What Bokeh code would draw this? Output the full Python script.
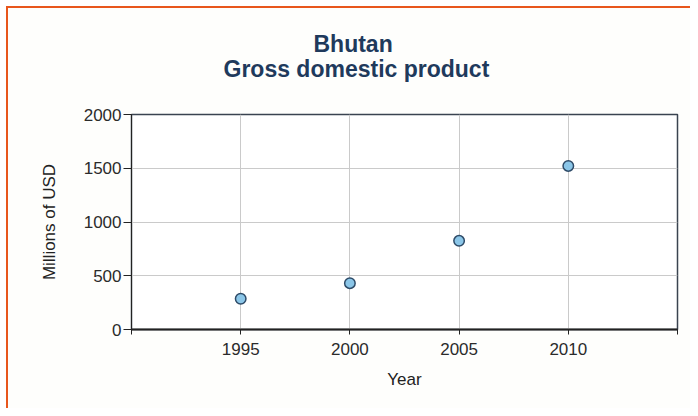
from bokeh.plotting import figure
from bokeh.models import Title, FixedTicker, Range1d
from bokeh.embed import file_html
from bokeh.resources import INLINE

# ---- data ----
years = [1995, 2000, 2005, 2010]
gdp_musd = [286, 431, 825, 1522]
x_ticks = [1990, 1995, 2000, 2005, 2010, 2015]
y_ticks = [0, 500, 1000, 1500, 2000]
title_lines = ["Bhutan", "Gross domestic product"]
x_label = "Year"
y_label = "Millions of USD"

FONT = "Liberation Sans"
TEXT = "#2b2b2b"

W, H = 690, 408
FL, FR, FT, FB = 131, 677, 114, 329          # frame edges in px
X0, X1, Y0, Y1 = 1990, 2015, 0, 2000

p = figure(width=W, height=H, output_backend="svg", toolbar_location=None,
           x_range=Range1d(X0, X1), y_range=Range1d(Y0, Y1),
           min_border_left=FL, min_border_right=W - FR,
           min_border_top=FT, min_border_bottom=H - FB)
p.styles = {"background-color": "#FEFEFC",
            "box-shadow": "inset 6px 6px 0 0 #FFFFFF, inset 8px 8px 0 0 #E8561C"}

p.background_fill_color = "white"
p.border_fill_color = None
p.outline_line_color = "#3a4350"
p.outline_line_width = 1.5

p.scatter(years, gdp_musd, size=10.5, marker="circle", fill_color="#8BC6E8",
          line_color="#2E4B68", line_width=1.5)

p.xaxis.ticker = FixedTicker(ticks=x_ticks)
p.xaxis.major_label_overrides = {x_ticks[0]: "", x_ticks[-1]: ""}
p.yaxis.ticker = FixedTicker(ticks=y_ticks)
p.xgrid.ticker = FixedTicker(ticks=x_ticks)
p.ygrid.ticker = FixedTicker(ticks=y_ticks)
p.grid.grid_line_color = "#cacaca"
p.grid.grid_line_width = 1

for ax in (p.xaxis, p.yaxis):
    ax.axis_line_color = "#222222"
    ax.major_tick_line_color = "#222222"
    ax.minor_tick_line_color = None
    ax.major_tick_in = 0
    ax.major_label_text_font = FONT
    ax.major_label_text_font_size = "17px"
    ax.major_label_text_color = TEXT
    ax.axis_label_text_font = FONT
    ax.axis_label_text_font_size = "17px"
    ax.axis_label_text_font_style = "normal"
    ax.axis_label_text_color = "#222222"

p.xaxis.axis_line_width = 2
p.xaxis.major_tick_out = 5
p.xaxis.major_label_standoff = 8
p.xaxis.axis_label = x_label
p.xaxis.axis_label_standoff = 12

p.yaxis.major_tick_out = 8
p.yaxis.major_label_standoff = 2
p.yaxis.axis_label = y_label
p.yaxis.axis_label_standoff = 22

# titles: spacer closest to the frame, then the two lines (outermost added last)
p.add_layout(Title(text=" ", text_font_size="19px"), "above")
title_offsets = [182, 92]   # left offsets from frame edge so lines centre on the figure
title_standoffs = [-7, 0]
for t, off, so in reversed(list(zip(title_lines, title_offsets, title_standoffs))):
    p.add_layout(Title(text=t, align="left", offset=off, text_font=FONT,
                       text_font_size="23px", text_font_style="bold",
                       text_color="#1F3A5C", standoff=so), "above")

open("out.html", "w").write(file_html(p, INLINE))
